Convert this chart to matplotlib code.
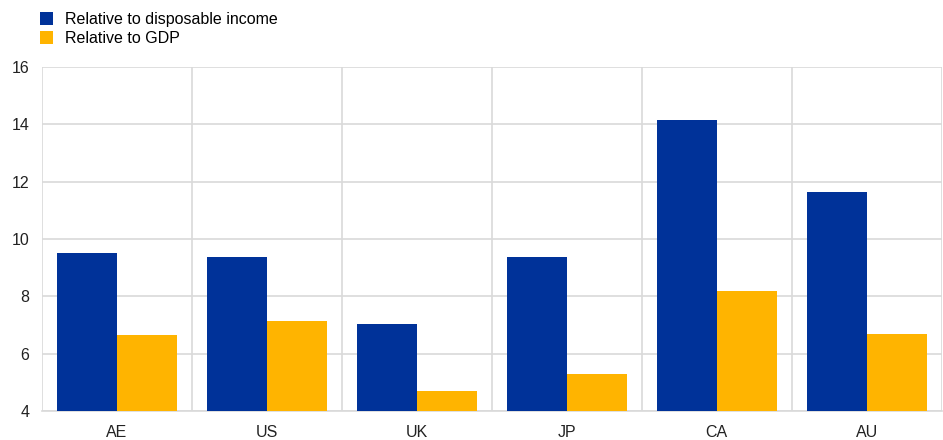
import matplotlib.pyplot as plt
import numpy as np

plt.rcParams["font.family"] = ["Liberation Sans", "DejaVu Sans"]

countries = ["AE", "US", "UK", "JP", "CA", "AU"]
disposable_income = [9.51, 9.36, 7.02, 9.38, 14.13, 11.62]
gdp = [6.64, 7.14, 4.70, 5.30, 8.19, 6.67]

BLUE = "#003299"
GOLD = "#FFB400"
GRID = "#d9d9d9"


def main() -> None:
    fig = plt.figure(figsize=(9.43, 4.4), dpi=100)
    ax = fig.add_axes([0.0445, 0.066, 0.954, 0.782])

    x = np.arange(len(countries))
    width = 0.4
    ax.bar(x - width / 2, disposable_income, width, color=BLUE,
           label="Relative to disposable income", zorder=3)
    ax.bar(x + width / 2, gdp, width, color=GOLD,
           label="Relative to GDP", zorder=3)

    ax.set_ylim(4, 16)
    ax.set_yticks(range(4, 17, 2))
    ax.set_xlim(-0.5, len(countries) - 0.5)
    ax.set_xticks(x)
    ax.set_xticklabels(countries)
    ax.set_xticks(np.arange(-0.5, len(countries)), minor=True)

    ax.grid(axis="y", color=GRID, linewidth=1.2, zorder=0)
    ax.grid(axis="x", which="minor", color=GRID, linewidth=1.2, zorder=0)
    ax.tick_params(axis="both", which="both", length=0, labelsize=11.5,
                   colors="#222222")
    ax.tick_params(axis="x", pad=10)
    ax.tick_params(axis="y", pad=9)
    for side in ["top", "right", "left"]:
        ax.spines[side].set_visible(False)
    ax.spines["bottom"].set_color(GRID)
    ax.spines["bottom"].set_linewidth(1.2)

    fig.legend(loc="upper left", bbox_to_anchor=(0.027, 1.005), frameon=False,
               fontsize=11.5, handlelength=0.85, handleheight=0.9,
               handletextpad=0.75, labelspacing=0.2)

    fig.savefig("out.png", dpi=100)
    plt.close(fig)


if __name__ == "__main__":
    main()
